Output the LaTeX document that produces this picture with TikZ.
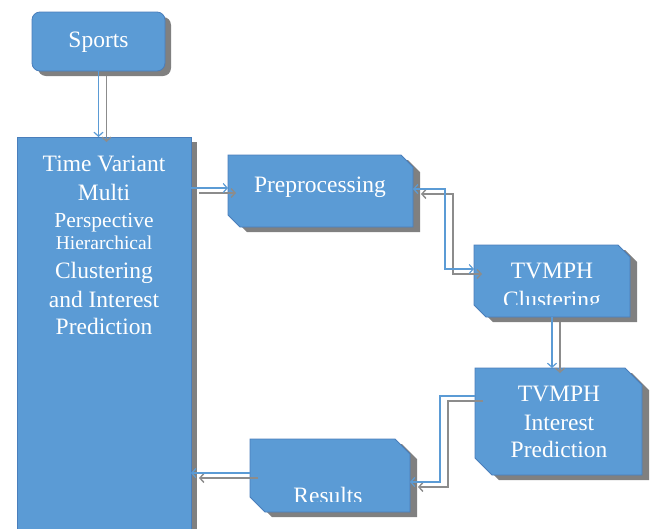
\documentclass[tikz,border=0pt]{standalone}
\usepackage{fontspec}
\setmainfont{Liberation Serif}
\usetikzlibrary{arrows.meta,fit,calc}
\definecolor{boxfill}{HTML}{5B9BD5}
\definecolor{boxline}{HTML}{4A7EBB}
\definecolor{shadowc}{HTML}{808080}
\definecolor{connblue}{HTML}{5B9BD5}
\definecolor{conngray}{HTML}{8C8C8C}
\tikzset{
  boxstyle/.style={fill=boxfill, draw=boxline, line width=0.8pt},
  shadowstyle/.style={fill=shadowc},
  lbl/.style={text=white, font=\fontsize{23.5}{28}\selectfont, anchor=base, inner sep=0pt},
  bconn/.style={draw=connblue, line width=1.2pt, ->},
  gconn/.style={draw=conngray, line width=1.4pt, ->},
}
\newcommand\conn[2][]{%
  \begin{scope}[transform canvas={shift={(8pt,-5pt)}}]\draw[gconn,#1] #2;\end{scope}
  \draw[bconn,#1] #2;}
\newcommand\snip[6]{%
  \fill[shadowstyle] (#2+7,#3+5) -- (#4+7-#6,#3+5) -- (#4+7,#3+5+#6) -- (#4+7,#5+5) -- (#2+7+#6,#5+5) -- (#2+7,#5+5-#6) -- cycle;
  \draw[boxstyle] (#2,#3) -- (#4-#6,#3) -- (#4,#3+#6) -- (#4,#5) -- (#2+#6,#5) -- (#2,#5-#6) -- cycle;
  \node[fit={(#2,#3) (#4,#5)}, inner sep=0pt, outer sep=0pt] (#1) {};
}
\begin{document}
\begin{tikzpicture}[x=1pt,y=-1pt,>={Straight Barb[length=4pt,width=9pt]}]
\clip (0,0) rectangle (651,528);
\fill[white] (0,0) rectangle (651,528);

% Sports
\fill[shadowstyle, rounded corners=8pt] (38,17) rectangle (171,76);
\node[boxstyle, rounded corners=8pt, minimum width=133pt, minimum height=59pt, inner sep=0pt, outer sep=0pt] (sports) at (98.5,41.5) {};
\node[lbl] (sportst) at (98.5,47) {Sports};

% Big box
\fill[shadowstyle] (23,142) rectangle (197,580);
\node[boxstyle, anchor=north west, minimum width=174pt, minimum height=440pt, inner sep=0pt, outer sep=0pt] (big) at (17,137) {};
\node[lbl] (b1) at (104,171) {Time Variant};
\node[lbl] (b2) at (104,200) {Multi};
\node[lbl, font=\fontsize{21.5}{26}\selectfont] (b3) at (104,227) {Perspective};
\node[lbl, font=\fontsize{19.5}{24}\selectfont] (b4) at (104,249) {Hierarchical};
\node[lbl] (b5) at (104,278) {Clustering};
\node[lbl] (b6) at (104,307) {and Interest};
\node[lbl] (b7) at (104,334) {Prediction};

% Preprocessing
\snip{prep}{228}{155}{413}{227}{12}
\node[lbl] (prept) at (320,192) {Preprocessing};

% TVMPH Clustering
\snip{clust}{474}{245}{630}{317}{12}
\node[lbl] (clustt1) at (552,278) {TVMPH};
\begin{scope}
  \clip (474,245) rectangle (630,304);
  \node[lbl] (clustt2) at (552,307) {Clustering};
\end{scope}

% TVMPH Interest Prediction
\snip{ip}{475}{368}{642}{475}{17}
\node[lbl] (ipt1) at (559,401) {TVMPH};
\node[lbl] (ipt2) at (559,430) {Interest};
\node[lbl] (ipt3) at (559,457) {Prediction};

% Results
\snip{res}{250}{439}{410}{512}{15}
\begin{scope}
  \clip (250,439) rectangle (410,501);
  \node[lbl] (rest) at (328,503) {Results};
\end{scope}

% Connectors
\coordinate (prepin) at ([yshift=3pt]prep.west);
\coordinate (resout) at ([yshift=2.5pt]res.west);
\conn{(sports.south) -- (sports.south |- big.north)}
\conn{(big.east |- prepin) -- (prepin)}
\conn[<->]{([yshift=2pt]prep.east) -- ++(32,0) |- ([yshift=12pt]clust.west)}
\conn{(clust.south) -- (clust.south |- ip.north)}
\conn{([yshift=25.5pt]ip.west) -- ++(-35,0) |- ([yshift=-6.5pt]res.east)}
\conn{(resout) -- (big.east |- resout)}
\end{tikzpicture}
\end{document}
